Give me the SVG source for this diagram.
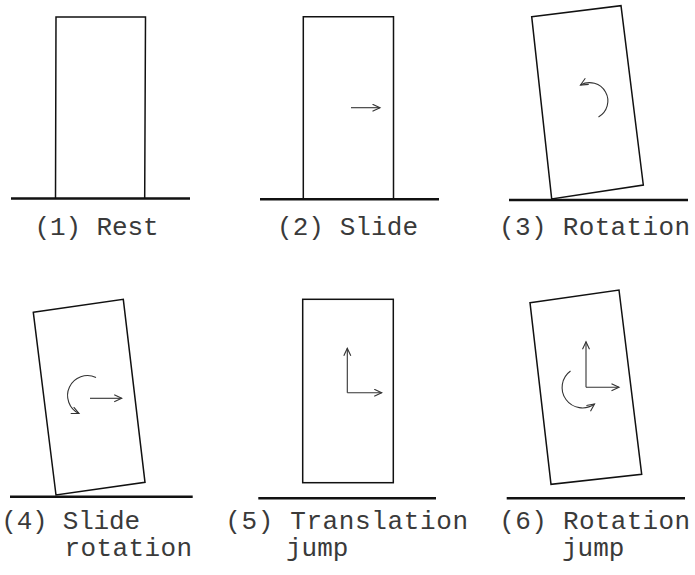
<svg xmlns="http://www.w3.org/2000/svg" width="695" height="575" viewBox="0 0 695 575">
<style>
.blk{fill:none;stroke:#111;stroke-width:1.5;stroke-linejoin:miter}
.gnd{stroke:#111;stroke-width:2.5;fill:none}
.arr{fill:none;stroke:#333;stroke-width:1.1}
.lbl{font-family:"Liberation Mono","Courier New",monospace;font-size:26px;fill:#3a3a3a}
</style>
<defs>
<marker id="ah" markerUnits="userSpaceOnUse" markerWidth="12" markerHeight="10" refX="8" refY="4" orient="auto">
<path d="M0.5,0.5 L8,4 L0.5,7.5" fill="none" stroke="#333" stroke-width="1.1"/>
</marker>
</defs>
<rect width="695" height="575" fill="#fff"/>
<g id="panel1">
<path class="gnd" d="M11,198.5 H190"/>
<path class="blk" d="M55.5,198.5 L56,17 H145.5 L144.7,198.5"/>
<text class="lbl" x="34.5" y="234.5" textLength="124" lengthAdjust="spacing">(1) Rest</text>
</g>
<g id="panel2">
<path class="gnd" d="M260,199.3 H439"/>
<path class="blk" d="M303.3,199.3 V16.7 H393.5 V199.3"/>
<text class="lbl" x="277" y="234.5" textLength="141" lengthAdjust="spacing">(2) Slide</text>
</g>
<g id="panel3">
<path class="gnd" d="M509,200 H688"/>
<polygon class="blk" points="531.7,16.7 621,5.7 643.3,185 551.7,199"/>
<text class="lbl" x="499" y="234.5" textLength="191" lengthAdjust="spacing">(3) Rotation</text>
</g>
<g id="panel4">
<path class="gnd" d="M10,496.7 H192.7"/>
<polygon class="blk" points="33.3,312.3 123.3,299.3 145,482.3 56,495"/>
<text class="lbl" x="1.3" y="528.5" textLength="138.7" lengthAdjust="spacing">(4) Slide</text>
<text class="lbl" x="64.5" y="555.5" textLength="127.5" lengthAdjust="spacing">rotation</text>
</g>
<g id="panel5">
<path class="gnd" d="M258.3,498.3 H436"/>
<rect class="blk" x="302.7" y="299.3" width="90.6" height="183.4"/>
<text class="lbl" x="225.3" y="528.5" textLength="242.7" lengthAdjust="spacing">(5) Translation</text>
<text class="lbl" x="286" y="555.5">jump</text>
</g>
<g id="panel6">
<path class="gnd" d="M506.7,498.3 H685"/>
<polygon class="blk" points="530,302.7 619,290 641.7,474.3 551,484.3"/>
<text class="lbl" x="499.3" y="528.5" textLength="190.7" lengthAdjust="spacing">(6) Rotation</text>
<text class="lbl" x="562" y="555.5">jump</text>
</g>
<g id="connectors">
<path class="arr" d="M351,107.7 H380" marker-end="url(#ah)"/>
<path class="arr" d="M598.5,117 A18,18 0 1 0 580.5,85" marker-end="url(#ah)"/>
<path class="arr" d="M96,377.5 A19,19 0 1 0 79,413.5" marker-end="url(#ah)"/>
<path class="arr" d="M90,398.3 H121.7" marker-end="url(#ah)"/>
<path class="arr" d="M347.3,392.7 V348.3" marker-end="url(#ah)"/>
<path class="arr" d="M347.3,392.7 H381.7" marker-end="url(#ah)"/>
<path class="arr" d="M586,387.3 V341.7" marker-end="url(#ah)"/>
<path class="arr" d="M586,387.3 H619" marker-end="url(#ah)"/>
<path class="arr" d="M570.5,371 A19,19 0 1 0 594.5,404" marker-end="url(#ah)"/>
</g>
</svg>
